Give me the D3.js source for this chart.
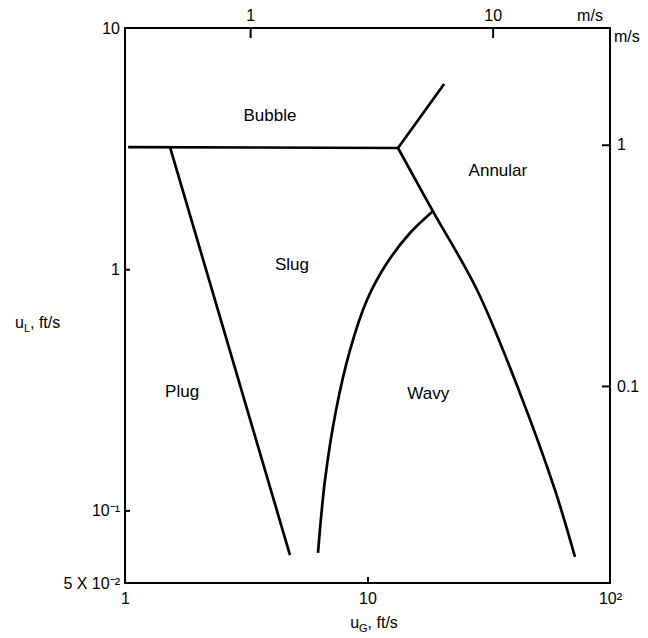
<!DOCTYPE html>
<html>
<head>
<meta charset="utf-8">
<script src="https://cdn.jsdelivr.net/npm/d3@7"></script>
<style>
  html, body { margin: 0; padding: 0; background: #fff; }
  svg { display: block; font-family: "Liberation Sans", Arial, sans-serif; }
</style>
</head>
<body>
<svg id="chart" width="648" height="638"></svg>
<script>
// Flow-pattern map: liquid superficial velocity u_L vs gas velocity u_G (log-log)
const FT_PER_M = 3.2808;

// Regime boundaries, [u_G ft/s, u_L ft/s]
const bubbleBoundary  = [[1.03, 3.21], [13.36, 3.18]];
const bubbleAnnular   = [[13.36, 3.18], [20.7, 5.86]];
const annularBoundary = [[13.36, 3.18], [18.6, 1.74], [28.3, 0.82], [42.5, 0.307],
                         [59.3, 0.1215], [71.7, 0.0641]];
const plugSlug        = [[1.533, 3.21], [4.79, 0.0653]];
const slugWavy        = [[18.6, 1.74], [14.97, 1.413], [12.03, 1.06], [9.95, 0.745],
                         [8.47, 0.462], [7.42, 0.261], [6.68, 0.1337], [6.25, 0.0666]];

// Regime names and where they sit, [u_G, u_L]
const regimes = [
  { name: "Bubble",  at: [3.96, 4.28] },
  { name: "Annular", at: [34.5, 2.53] },
  { name: "Slug",    at: [4.88, 1.04] },
  { name: "Plug",    at: [1.72, 0.307] },
  { name: "Wavy",    at: [17.8, 0.303] }
];

// Tick labels
const xTicks      = [1, 10, 100];
const xTickLabels = ["1", "10", "10²"];
const yTicks      = [10, 1, 0.1, 0.05];
const yTickLabels = ["10", "1", "10⁻¹", "5 X 10⁻²"];
const topTicks    = [1, 10];
const topLabels   = ["1", "10"];
const rightTicks  = [1, 0.1];
const rightLabels = ["1", "0.1"];

const svg = d3.select("#chart");
const L = 125, R = 610, T = 28, B = 583;

const x = d3.scaleLog().domain([1, 100]).range([L, R]);
const y = d3.scaleLog().domain([0.05, 10]).range([B, T]);
const xm = d3.scaleLog().domain([1 / FT_PER_M, 100 / FT_PER_M]).range([L, R]);
const ym = d3.scaleLog().domain([0.05 / FT_PER_M, 10 / FT_PER_M]).range([B, T]);

const fmt = (vals, labels) => d => labels[vals.indexOf(d)];

// Frame
svg.append("rect")
  .attr("x", L).attr("y", T).attr("width", R - L).attr("height", B - T)
  .attr("fill", "none").attr("stroke", "#000").attr("stroke-width", 2);

function styleAxis(g) {
  g.select(".domain").remove();
  g.selectAll("line").attr("stroke", "#000").attr("stroke-width", 2);
  g.selectAll("text").attr("fill", "#000").attr("font-size", 16)
    .attr("font-family", "Liberation Sans, Arial, sans-serif");
}

// Bottom axis (ft/s)
svg.append("g").attr("transform", `translate(0,${B})`)
  .call(d3.axisBottom(x).tickValues(xTicks).tickFormat(fmt(xTicks, xTickLabels))
    .tickSizeInner(0).tickSizeOuter(0).tickPadding(10))
  .call(styleAxis);
svg.append("g").attr("transform", `translate(0,${B})`)
  .call(d3.axisBottom(x).tickValues([10]).tickFormat("").tickSizeInner(-6).tickSizeOuter(0))
  .call(styleAxis);

// Left axis (ft/s)
svg.append("g").attr("transform", `translate(${L},0)`)
  .call(d3.axisLeft(y).tickValues(yTicks).tickFormat(fmt(yTicks, yTickLabels))
    .tickSizeInner(0).tickSizeOuter(0).tickPadding(5))
  .call(styleAxis);
svg.append("g").attr("transform", `translate(${L},0)`)
  .call(d3.axisLeft(y).tickValues([1, 0.1]).tickFormat("").tickSizeInner(-5).tickSizeOuter(0))
  .call(styleAxis);

// Top axis (m/s)
svg.append("g").attr("transform", `translate(0,${T})`)
  .call(d3.axisTop(xm).tickValues(topTicks).tickFormat(fmt(topTicks, topLabels))
    .tickSizeInner(-10).tickSizeOuter(0).tickPadding(7))
  .call(styleAxis);

// Right axis (m/s)
svg.append("g").attr("transform", `translate(${R},0)`)
  .call(d3.axisRight(ym).tickValues(rightTicks).tickFormat(fmt(rightTicks, rightLabels))
    .tickSizeInner(-8).tickSizeOuter(0).tickPadding(7))
  .call(styleAxis);

// Unit labels
svg.append("text").attr("x", R - 20).attr("y", 21).attr("text-anchor", "middle")
  .attr("font-size", 16).text("m/s");
svg.append("text").attr("x", R + 4).attr("y", 42).attr("font-size", 16).text("m/s");

// Axis titles
const xt = svg.append("text").attr("x", 374).attr("y", 628).attr("text-anchor", "middle")
  .attr("font-size", 16);
xt.append("tspan").text("u");
xt.append("tspan").attr("font-size", 11).attr("dy", 4).text("G");
xt.append("tspan").attr("dy", -4).text(", ft/s");

const yt = svg.append("text").attr("x", 15).attr("y", 328).attr("font-size", 16);
yt.append("tspan").text("u");
yt.append("tspan").attr("font-size", 11).attr("dy", 4).text("L");
yt.append("tspan").attr("dy", -4).text(", ft/s");

// Boundaries
const line = d3.line().x(d => x(d[0])).y(d => y(d[1])).curve(d3.curveCatmullRom.alpha(0.5));
[bubbleBoundary, bubbleAnnular, annularBoundary, plugSlug, slugWavy].forEach(pts => {
  svg.append("path").attr("d", line(pts)).attr("fill", "none")
    .attr("stroke", "#000").attr("stroke-width", 2.7)
    .attr("stroke-linejoin", "round").attr("stroke-linecap", "butt");
});

// Regime names
svg.selectAll("text.regime").data(regimes).join("text").attr("class", "regime")
  .attr("x", d => x(d.at[0])).attr("y", d => y(d.at[1]))
  .attr("text-anchor", "middle").attr("dominant-baseline", "middle")
  .attr("font-size", 17).text(d => d.name);
</script>
</body>
</html>
